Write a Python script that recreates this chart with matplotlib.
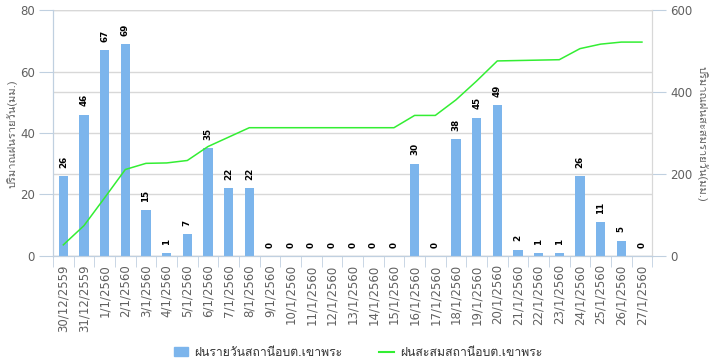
import matplotlib
matplotlib.use("Agg")
import matplotlib.pyplot as plt
import numpy as np
from matplotlib.lines import Line2D
from matplotlib.patches import Patch

# ข้อมูลฝน สถานีอบต.เขาพระ
dates = ["30/12/2559", "31/12/2559", "1/1/2560", "2/1/2560", "3/1/2560", "4/1/2560",
         "5/1/2560", "6/1/2560", "7/1/2560", "8/1/2560", "9/1/2560", "10/1/2560",
         "11/1/2560", "12/1/2560", "13/1/2560", "14/1/2560", "15/1/2560", "16/1/2560",
         "17/1/2560", "18/1/2560", "19/1/2560", "20/1/2560", "21/1/2560", "22/1/2560",
         "23/1/2560", "24/1/2560", "25/1/2560", "26/1/2560", "27/1/2560"]
rain_daily = [26, 46, 67, 69, 15, 1, 7, 35, 22, 22, 0, 0, 0, 0, 0, 0, 0, 30,
              0, 38, 45, 49, 2, 1, 1, 26, 11, 5, 0]
rain_cum = [27, 74, 142, 211, 226, 227, 233, 267, 290, 313, 313, 313, 313, 313,
            313, 313, 313, 343, 343, 381, 427, 476, 477, 478, 479, 506, 517, 522, 522]

left_ticks = [0, 20, 40, 60, 80]
right_ticks = [0, 200, 400, 600]

thai = ["Loma", "DejaVu Sans"]
axis_col = "#C0D0E0"
grid_col = "#D8D8D8"
txt_col = "#606060"

fig = plt.figure(figsize=(7.16, 3.62), dpi=100)
ax = fig.add_axes([0.074, 0.293, 0.837, 0.679])
ax2 = ax.twinx()

x = np.arange(len(dates))
ax.bar(x, rain_daily, width=0.45, color="#7CB5EC", zorder=3)
for xi, v in zip(x, rain_daily):
    ax.annotate(str(v), (xi, v), xytext=(0, 6), textcoords="offset points",
                ha="center", va="bottom", rotation=90, fontsize=6.3,
                fontweight="bold", color="black", zorder=5)

ax2.plot(x, rain_cum, color="#33EE33", lw=1.1, zorder=4)

ax.set_xlim(-0.5, len(dates) - 0.5)
ax.set_ylim(0, 80)
ax2.set_ylim(0, 600)
ax.set_yticks(left_ticks)
ax2.set_yticks(right_ticks)

# เส้นกริด
for t in left_ticks:
    ax.axhline(t, color=grid_col, lw=1, zorder=0)
for t in right_ticks:
    ax.axhline(t * 80 / 600, color=grid_col, lw=1, zorder=0)

ax.set_xticks(x)
ax.set_xticklabels(dates, rotation=90, fontsize=8.5, color=txt_col)
ax.set_xticks(np.arange(-0.5, len(dates), 1), minor=True)
ax.tick_params(axis="x", which="major", length=0, pad=6)
ax.tick_params(axis="x", which="minor", length=8, color=axis_col)
ax.tick_params(axis="y", length=10, color=axis_col, labelsize=8.5,
               labelcolor=txt_col, pad=3)
ax2.tick_params(axis="y", length=10, color=axis_col, labelsize=8.5,
                labelcolor=txt_col, pad=3)

for a in (ax, ax2):
    a.spines["top"].set_visible(False)
    a.spines["left"].set_color(axis_col)
    a.spines["right"].set_color(grid_col)
    a.spines["bottom"].set_color(axis_col)

fig.text(0.017, 0.63, "ปริมาณฝนรายวัน(มม.)", family=thai, fontsize=8,
         color=txt_col, rotation=90, ha="center", va="center")
fig.text(0.981, 0.63, "ปริมาณฝนสะสมรายวัน(มม.)", family=thai, fontsize=8,
         color=txt_col, rotation=270, ha="center", va="center")

handles = [Patch(color="#7CB5EC"), Line2D([], [], color="#33EE33", lw=1.5)]
labels = ["ฝนรายวันสถานีอบต.เขาพระ", "ฝนสะสมสถานีอบต.เขาพระ"]
fig.legend(handles, labels, loc="center", bbox_to_anchor=(0.5, 0.025), ncol=2,
           frameon=False, prop={"family": thai, "size": 8.8}, handlelength=1.2,
           columnspacing=3, handletextpad=0.5, labelcolor="#333333")

fig.savefig("out.png")
